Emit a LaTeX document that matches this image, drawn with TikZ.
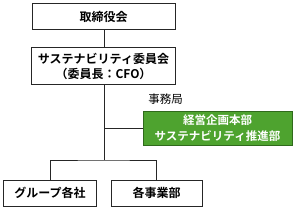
\documentclass[tikz,border=0pt]{standalone}
\usepackage{fontspec}
\setmainfont{Noto Sans CJK JP}
\newfontfamily\jpbold{Noto Sans CJK JP Bold}
\begin{document}
\begin{tikzpicture}[x=1pt,y=-1pt,
  box/.style={draw=black!85, line width=0.8pt, fill=white, align=center, inner sep=0pt,
    font=\jpbold\fontsize{12}{15}\selectfont},
  conn/.style={draw=black!85, line width=0.7pt}]
\useasboundingbox (0,0) rectangle (304,211);
\definecolor{gfill}{HTML}{4EA32F}
\definecolor{gdraw}{HTML}{2F6A1B}
\node[box, minimum width=143pt, minimum height=26pt] (b1) at (103.5,16.5) {取締役会};
\node[box, minimum width=144pt, minimum height=37pt] (b2) at (103.5,66) {サステナビリティ委員会\\（委員長：CFO）};
\node[box, draw=gdraw, fill=gfill, text=white, font=\jpbold\fontsize{11.5}{16.5}\selectfont,
  minimum width=149pt, minimum height=34pt] (g) at (217.5,128) {経営企画本部\\サステナビリティ推進部};
\node[font=\fontsize{11.5}{14}\selectfont, inner sep=0pt] (lbl) at (165.5,99) {事務局};
\node[box, minimum width=93pt, minimum height=26pt] (l) at (50,193) {グループ各社};
\node[box, minimum width=91pt, minimum height=26pt] (r) at (156.5,193) {各事業部};
\coordinate (j1) at (104,128);
\coordinate (j2) at (104,160);
\draw[conn] (b1.south -| j1) -- (b2.north -| j1);
\draw[conn] (b2.south -| j1) -- (j2);
\draw[conn] (j1) -- (g.west);
\draw[conn] (l.north) |- (j2) -| (r.north);
\end{tikzpicture}
\end{document}
